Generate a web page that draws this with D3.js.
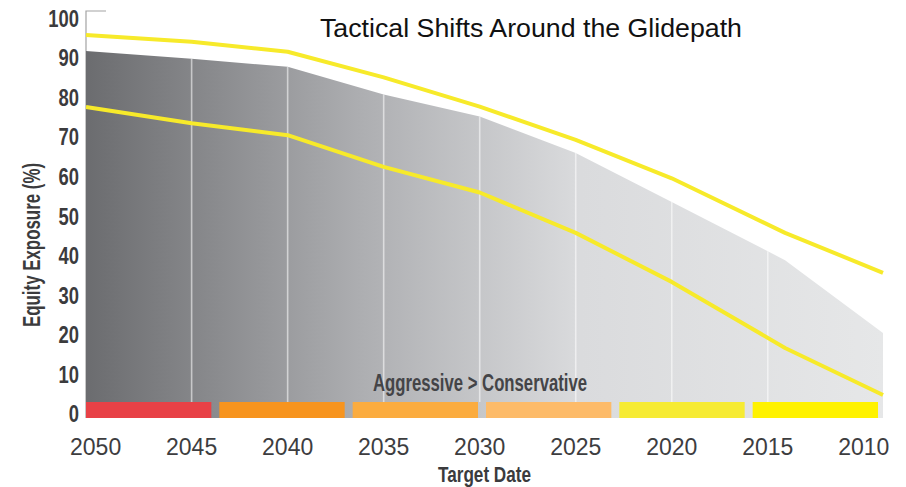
<!DOCTYPE html>
<html>
<head>
<meta charset="utf-8">
<script src="https://cdn.jsdelivr.net/npm/d3@7/dist/d3.min.js"></script>
<style>
  html, body { margin: 0; padding: 0; background: #fff; }
  svg { display: block; }
  .narrow { font-family: "Liberation Sans Narrow", "Arial Narrow", "Liberation Sans", sans-serif; }
</style>
</head>
<body>
<svg id="chart" width="906" height="487"></svg>
<script>
// Target-date years shown on the axis
const years = [2050, 2045, 2040, 2035, 2030, 2025, 2020, 2015, 2010];
// Years at which the glide path and its tactical band change slope
const pathYears = [2050.5, 2045, 2040, 2035, 2030, 2025, 2020, 2014.1, 2009];
// Equity exposure (%) of the glide path and the band around it
const glidepath = [91.8, 89.8, 87.8, 80.8, 75.2, 66.0, 53.6, 38.9, 20.5];
const upperBand = [95.8, 94.1, 91.6, 85.1, 77.7, 69.3, 59.6, 45.8, 35.7];
const lowerBand = [77.6, 73.5, 70.5, 62.5, 56.0, 45.8, 33.4, 16.7, 4.8];
const yTicks = [0, 10, 20, 30, 40, 50, 60, 70, 80, 90, 100];
// Risk profile strip, most aggressive first
const riskBands = ["r1", "r2", "r3", "r4", "r5", "r6"];
const riskColors = ["#e84146", "#f7941e", "#fbac3f", "#fdbb69", "#f6eb33", "#fff200"];

const svg = d3.select("#chart");
const plotLeft = 86, plotRight = 883, plotBottom = 418;
const stripTop = 402;

const x = d3.scaleLinear().domain([2050.5, 2009]).range([plotLeft, plotRight]);
const y = d3.scaleLinear().domain([0, 100]).range([414, 18.5]);
const glideAt = d3.scaleLinear().domain(pathYears).range(glidepath);

// Gray gradient for the glide path area
const defs = svg.append("defs");
const grad = defs.append("linearGradient")
  .attr("id", "glideFill")
  .attr("gradientUnits", "userSpaceOnUse")
  .attr("x1", plotLeft).attr("x2", plotRight).attr("y1", 0).attr("y2", 0);
grad.append("stop").attr("offset", 0).attr("stop-color", "#6b6c6f");
grad.append("stop").attr("offset", 0.35).attr("stop-color", "#aeafb2");
grad.append("stop").attr("offset", 0.62).attr("stop-color", "#dadbdd");
grad.append("stop").attr("offset", 1).attr("stop-color", "#e6e7e8");

// Axis corner mark and spine
svg.append("path")
  .attr("d", `M${plotLeft + 20},11H${plotLeft}V${plotBottom}`)
  .attr("fill", "none").attr("stroke", "#a3a3a3").attr("stroke-width", 1.2);

// Glide path area
const pts = pathYears.map((yr, i) => ({ yr, g: glidepath[i], u: upperBand[i], l: lowerBand[i] }));
svg.append("path")
  .datum(pts)
  .attr("fill", "url(#glideFill)")
  .attr("d", d3.area().x(d => x(d.yr)).y0(plotBottom).y1(d => y(d.g)));

// Divider lines at each interior target year
svg.append("g").selectAll("line")
  .data(years.slice(1, -1))
  .join("line")
  .attr("x1", d => x(d)).attr("x2", d => x(d))
  .attr("y1", d => y(glideAt(d))).attr("y2", stripTop)
  .attr("stroke", "#ffffff").attr("stroke-opacity", 0.55).attr("stroke-width", 1.6);

// Risk strip
const band = d3.scaleBand().domain(riskBands).range([plotLeft, 878]).paddingInner(0.06).paddingOuter(0);
svg.append("g").selectAll("rect")
  .data(riskBands)
  .join("rect")
  .attr("x", d => band(d)).attr("width", band.bandwidth())
  .attr("y", stripTop).attr("height", plotBottom - stripTop)
  .attr("fill", (d, i) => riskColors[i]);

// Tactical band lines
const line = key => d3.line().x(d => x(d.yr)).y(d => y(d[key]));
["u", "l"].forEach(k => {
  svg.append("path").datum(pts)
    .attr("fill", "none").attr("stroke", "#f7ea2a").attr("stroke-width", 4)
    .attr("stroke-linejoin", "round")
    .attr("d", line(k));
});

// Y tick labels (condensed)
svg.append("g").selectAll("text")
  .data(yTicks)
  .join("text")
  .attr("class", "narrow")
  .attr("transform", d => `translate(79,${y(d)}) scale(0.8,1)`)
  .attr("dy", "0.36em")
  .attr("text-anchor", "end")
  .attr("font-size", 23).attr("font-weight", "bold").attr("fill", "#3b3b3d")
  .text(d => d);

// X tick labels
svg.append("g").selectAll("text")
  .data(years)
  .join("text")
  .attr("x", d => x(d)).attr("y", 455)
  .attr("text-anchor", "middle")
  .attr("font-family", "'Liberation Sans', Arial, sans-serif")
  .attr("font-size", 23).attr("fill", "#3d3d3f")
  .text(d => d);

// Titles
svg.append("text")
  .attr("x", 531).attr("y", 37).attr("text-anchor", "middle")
  .attr("font-family", "'Liberation Sans', Arial, sans-serif")
  .attr("font-size", 25).attr("fill", "#111")
  .attr("textLength", 422).attr("lengthAdjust", "spacingAndGlyphs")
  .text("Tactical Shifts Around the Glidepath");

svg.append("text")
  .attr("class", "narrow")
  .attr("transform", "translate(40,245) rotate(-90)")
  .attr("text-anchor", "middle")
  .attr("font-size", 24).attr("font-weight", "bold").attr("fill", "#3b3b3d")
  .attr("textLength", 164).attr("lengthAdjust", "spacingAndGlyphs")
  .text("Equity Exposure (%)");

svg.append("text")
  .attr("class", "narrow")
  .attr("x", 484.5).attr("y", 482).attr("text-anchor", "middle")
  .attr("font-size", 22).attr("font-weight", "bold").attr("fill", "#3b3b3d")
  .attr("textLength", 93).attr("lengthAdjust", "spacingAndGlyphs")
  .text("Target Date");

svg.append("text")
  .attr("class", "narrow")
  .attr("x", 480).attr("y", 391).attr("text-anchor", "middle")
  .attr("font-size", 24).attr("font-weight", "bold").attr("fill", "#444447")
  .attr("textLength", 214).attr("lengthAdjust", "spacingAndGlyphs")
  .text("Aggressive > Conservative");
</script>
</body>
</html>
